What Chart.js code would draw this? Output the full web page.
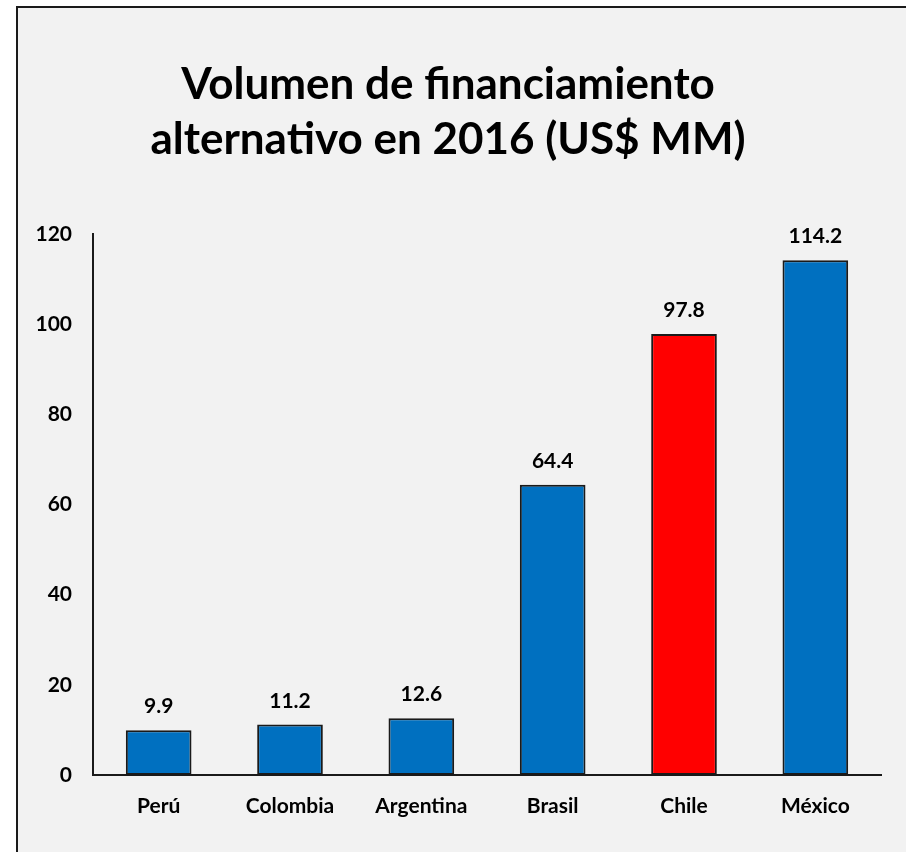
<!DOCTYPE html>
<html>
<head>
<meta charset="utf-8">
<script src="https://cdn.jsdelivr.net/npm/chart.js@4.4.1/dist/chart.umd.min.js"></script>
<style>
  html, body { margin: 0; padding: 0; background: #ffffff; }
  #wrap { width: 906px; height: 852px; }
</style>
</head>
<body>
<div id="wrap"><canvas id="c" width="906" height="852"></canvas></div>
<script>
const titleLines = ['Volumen de financiamiento', 'alternativo en 2016 (US$ MM)'];
const categories = ['Perú', 'Colombia', 'Argentina', 'Brasil', 'Chile', 'México'];
const values = [9.9, 11.2, 12.6, 64.4, 97.8, 114.2];
const highlighted = 'Chile';
const yTicks = [0, 20, 40, 60, 80, 100, 120];

const FONT = 'Lato, "Open Sans", "Liberation Sans", sans-serif';
const BLUE = '#0070C0';
const RED = '#FF0000';

const framePlugin = {
  id: 'frame',
  beforeDraw(chart) {
    const ctx = chart.ctx;
    ctx.save();
    ctx.fillStyle = '#ffffff';
    ctx.fillRect(0, 0, chart.width, chart.height);
    ctx.fillStyle = '#f2f2f2';
    ctx.fillRect(17, 7, chart.width - 17, chart.height - 7);
    ctx.strokeStyle = '#1a1a1a';
    ctx.lineWidth = 2;
    ctx.beginPath();
    ctx.moveTo(17, chart.height);
    ctx.lineTo(17, 7);
    ctx.lineTo(chart.width, 7);
    ctx.stroke();
    ctx.restore();
  }
};

const valueLabels = {
  id: 'valueLabels',
  afterDatasetsDraw(chart) {
    const ctx = chart.ctx;
    const meta = chart.getDatasetMeta(0);
    ctx.save();
    ctx.fillStyle = '#000000';
    ctx.font = 'bold 21px ' + FONT;
    ctx.textAlign = 'center';
    ctx.textBaseline = 'alphabetic';
    meta.data.forEach((bar, i) => {
      ctx.fillText(values[i].toFixed(1), bar.x, bar.y - 17);
    });
    ctx.restore();
  }
};

new Chart(document.getElementById('c'), {
  type: 'bar',
  data: {
    labels: categories,
    datasets: [{
      data: values,
      backgroundColor: categories.map(c => c === highlighted ? RED : BLUE),
      borderColor: '#1a1a1a',
      borderWidth: 2,
      borderSkipped: false,
      categoryPercentage: 1,
      barPercentage: 0.5
    }]
  },
  options: {
    responsive: false,
    animation: false,
    devicePixelRatio: 1,
    layout: { padding: { left: 15, right: 25, top: 0, bottom: 27 } },
    plugins: {
      legend: { display: false },
      tooltip: { enabled: false },
      title: {
        display: true,
        text: titleLines,
        color: '#000000',
        font: { family: FONT, size: 44, weight: 'bold', lineHeight: 1.25 },
        padding: { top: 57, bottom: 67 }
      }
    },
    scales: {
      x: {
        grid: { display: false, drawTicks: false },
        border: { display: true, color: '#1a1a1a', width: 2 },
        ticks: {
          color: '#000000',
          font: { family: FONT, size: 21, weight: 'bold' },
          padding: 19,
          maxRotation: 0
        },
        afterFit(scale) { scale.height = 50; }
      },
      y: {
        min: 0,
        max: 120,
        afterBuildTicks(scale) { scale.ticks = yTicks.map(v => ({ value: v })); },
        grid: { display: false, drawTicks: false },
        border: { display: true, color: '#1a1a1a', width: 2 },
        ticks: {
          color: '#000000',
          font: { family: FONT, size: 21, weight: 'bold' },
          padding: 21
        },
        afterFit(scale) { scale.width = 78; }
      }
    }
  },
  plugins: [framePlugin, valueLabels]
});
</script>
</body>
</html>
